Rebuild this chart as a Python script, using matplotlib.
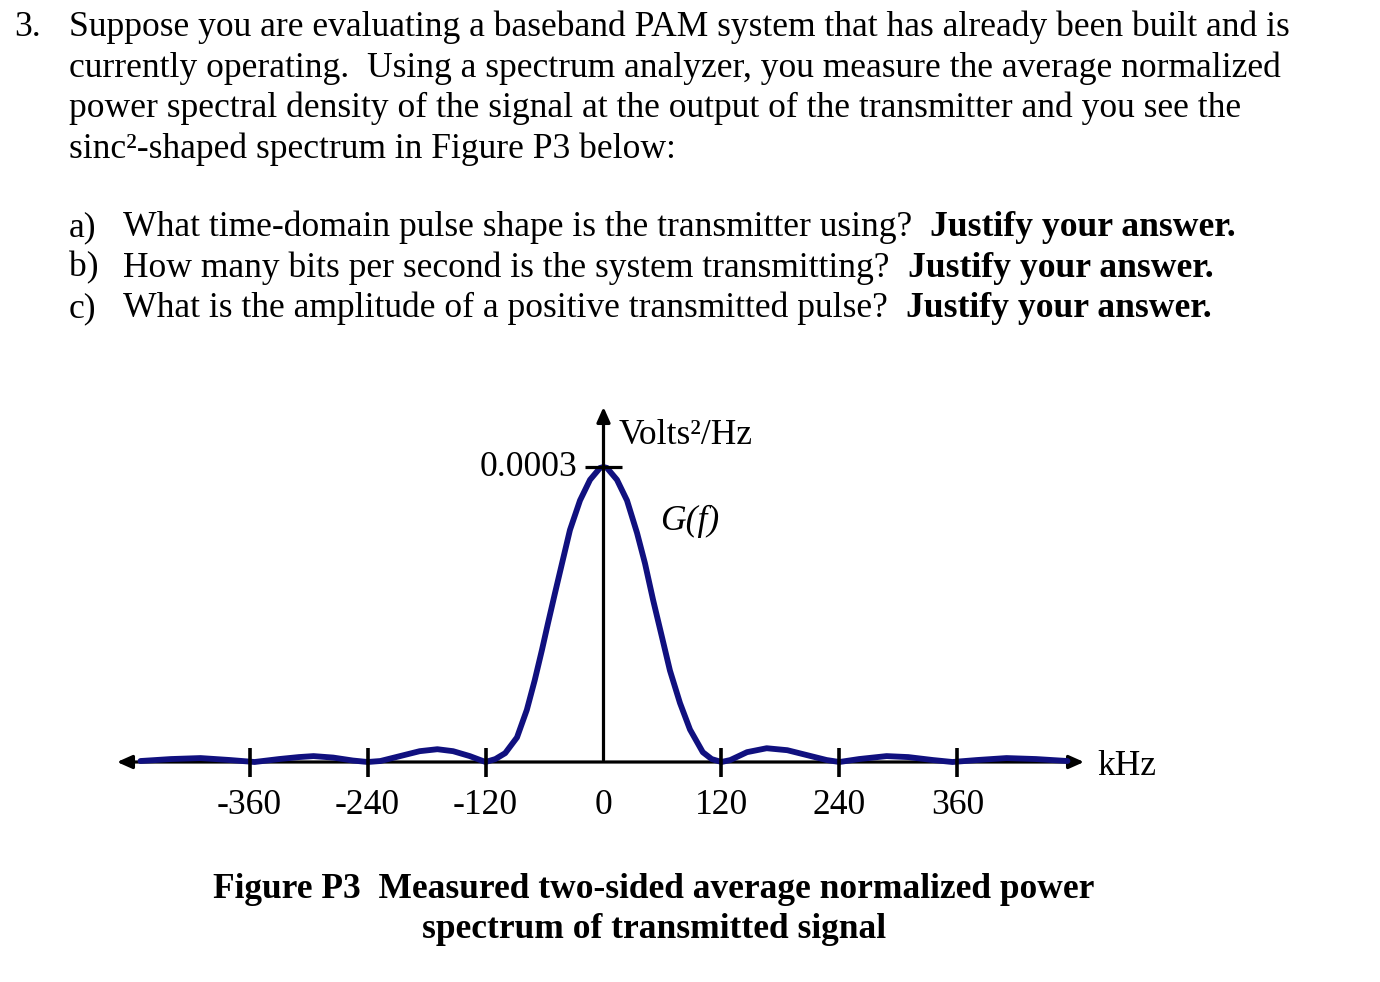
import matplotlib
matplotlib.use("Agg")
import matplotlib.pyplot as plt

W, H, DPI = 1380, 982, 100

# ---------------- text content ----------------
problem_number = "3."
body_lines = [
    "Suppose you are evaluating a baseband PAM system that has already been built and is",
    "currently operating.  Using a spectrum analyzer, you measure the average normalized",
    "power spectral density of the signal at the output of the transmitter and you see the",
    "sinc\u00b2-shaped spectrum in Figure P3 below:",
]
question_labels = ["a)", "b)", "c)"]
question_texts = [
    "What time-domain pulse shape is the transmitter using?",
    "How many bits per second is the system transmitting?",
    "What is the amplitude of a positive transmitted pulse?",
]
question_bold = "Justify your answer."
caption_lines = [
    "Figure P3  Measured two-sided average normalized power",
    "spectrum of transmitted signal",
]
y_unit_label = "Volts\u00b2/Hz"
x_unit_label = "kHz"
curve_label = "G(f)"

# ---------------- chart data ----------------
tick_values = [-360, -240, -120, 0, 120, 240, 360]
tick_labels = ["-360", "-240", "-120", "0", "120", "240", "360"]
peak_value = 3e-4
peak_label = "0.0003"

freq_khz = [-471, -440, -410, -380, -355, -330, -310, -295, -275, -255, -240,
            -227, -207, -187, -169, -153, -136, -120,
            -110, -100, -88, -78, -70, -62.6, -56.5, -49.3, -42.2, -34.1,
            -23.9, -13.7, -3.6, 0, 3.6, 13.7, 23.9, 34.1, 42.2, 50.4, 59.5,
            67.6, 77.8, 88, 101, 110, 120,
            129, 146, 166, 187, 207, 227, 240,
            260, 288, 310, 335, 355, 380, 410, 440, 472]
psd_e4 = [0.01, 0.03, 0.04, 0.02, 0.0, 0.03, 0.05, 0.06, 0.045, 0.015, 0.0,
          0.01, 0.06, 0.11, 0.13, 0.11, 0.06, 0.0,
          0.03, 0.09, 0.25, 0.53, 0.83, 1.14, 1.41, 1.72, 2.02, 2.36,
          2.66, 2.87, 2.99, 3.0, 2.99, 2.87, 2.66, 2.33, 2.02, 1.65, 1.27,
          0.93, 0.60, 0.33, 0.10, 0.03, 0.0,
          0.02, 0.10, 0.14, 0.12, 0.07, 0.02, 0.0,
          0.03, 0.06, 0.05, 0.02, 0.0, 0.02, 0.04, 0.03, 0.01]
psd = [v * 1e-4 for v in psd_e4]

# ---------------- figure ----------------
plt.rcParams['font.family'] = ['Liberation Serif', 'DejaVu Serif']
fig = plt.figure(figsize=(W / DPI, H / DPI), dpi=DPI)
fig.patch.set_facecolor('white')
renderer = fig.canvas.get_renderer()


def fx(px):
    return px / W


def fy(py):
    return 1 - py / H


def text_width(s, size, **kw):
    t = fig.text(0, 0, s, fontsize=size, **kw)
    w = t.get_window_extent(renderer).width
    t.remove()
    return w


body_size = 20 * 1223 / text_width(body_lines[0], 20)
cap_size = 20 * 880 / text_width(caption_lines[0], 20, fontweight='bold')

# body paragraph
fig.text(fx(14), fy(36), problem_number, fontsize=body_size, va='baseline')
for i, line in enumerate(body_lines):
    fig.text(fx(69), fy(36 + 40.7 * i), line, fontsize=body_size, va='baseline')

# questions
for i, (lab, q) in enumerate(zip(question_labels, question_texts)):
    yb = 236 + 40.7 * i
    fig.text(fx(69), fy(yb), lab, fontsize=body_size, va='baseline')
    t = fig.text(fx(123), fy(yb), q, fontsize=body_size, va='baseline')
    x_end = t.get_window_extent(renderer).x1
    fig.text(fx(x_end + 18), fy(yb), question_bold, fontsize=body_size,
             fontweight='bold', va='baseline')

# caption
for i, line in enumerate(caption_lines):
    fig.text(fx(654), fy(898 + 40.5 * i), line, fontsize=cap_size,
             fontweight='bold', ha='center', va='baseline')

# ---------------- chart axes ----------------
# pixel mapping: f=0 at x=603.5, 0.983 px/kHz ; G=0 at y=762, 0.0003 at y=467
X0, KX = 603.5, 0.983
Y0, KY = 762.0, 295.0 / 3e-4
L, R, T, B = 100, 1200, 390, 840
ax = fig.add_axes([fx(L), fy(B), (R - L) / W, (B - T) / H])
ax.set_xlim((L - X0) / KX, (R - X0) / KX)
ax.set_ylim((Y0 - B) / KY, (Y0 - T) / KY)
ax.axis('off')


def dx(px):
    return (px - X0) / KX


def dy(py):
    return (Y0 - py) / KY


navy = '#10107f'
arrow_style = '-|>,head_length=0.45,head_width=0.2'
# horizontal axis with arrows
ax.annotate('', xy=(dx(1084), 0), xytext=(dx(117), 0),
            arrowprops=dict(arrowstyle='<|-|>,head_length=0.45,head_width=0.2',
                            lw=2.3, color='black', shrinkA=0, shrinkB=0,
                            mutation_scale=20), zorder=1)
# curve
ax.plot(freq_khz, psd, color=navy, lw=4.2, solid_capstyle='round',
        solid_joinstyle='round', zorder=2)
# vertical axis
ax.annotate('', xy=(0, dy(407)), xytext=(0, dy(760)),
            arrowprops=dict(arrowstyle=arrow_style,
                            lw=2.3, color='black', shrinkA=0, shrinkB=0,
                            mutation_scale=20), zorder=3)
# ticks
for v in tick_values:
    if v == 0:
        continue
    ax.plot([v, v], [dy(748), dy(777)], color='black', lw=2.6, zorder=3,
            solid_capstyle='butt')
ax.plot([dx(585), dx(622)], [peak_value, peak_value], color='black', lw=2.3,
        zorder=3, solid_capstyle='butt')

# tick labels
lab_size = body_size
for v, s in zip(tick_values, tick_labels):
    ax.text(v, dy(814), s, fontsize=lab_size, ha='center', va='baseline')
ax.text(dx(577), dy(476), peak_label, fontsize=lab_size, ha='right', va='baseline')
ax.text(dx(619), dy(444), y_unit_label, fontsize=lab_size, ha='left', va='baseline')
ax.text(dx(660), dy(530), curve_label, fontsize=lab_size, style='italic',
        ha='left', va='baseline')
ax.text(dx(1097), dy(775), x_unit_label, fontsize=lab_size, ha='left', va='baseline')

fig.savefig('out.png', dpi=DPI, facecolor='white')
